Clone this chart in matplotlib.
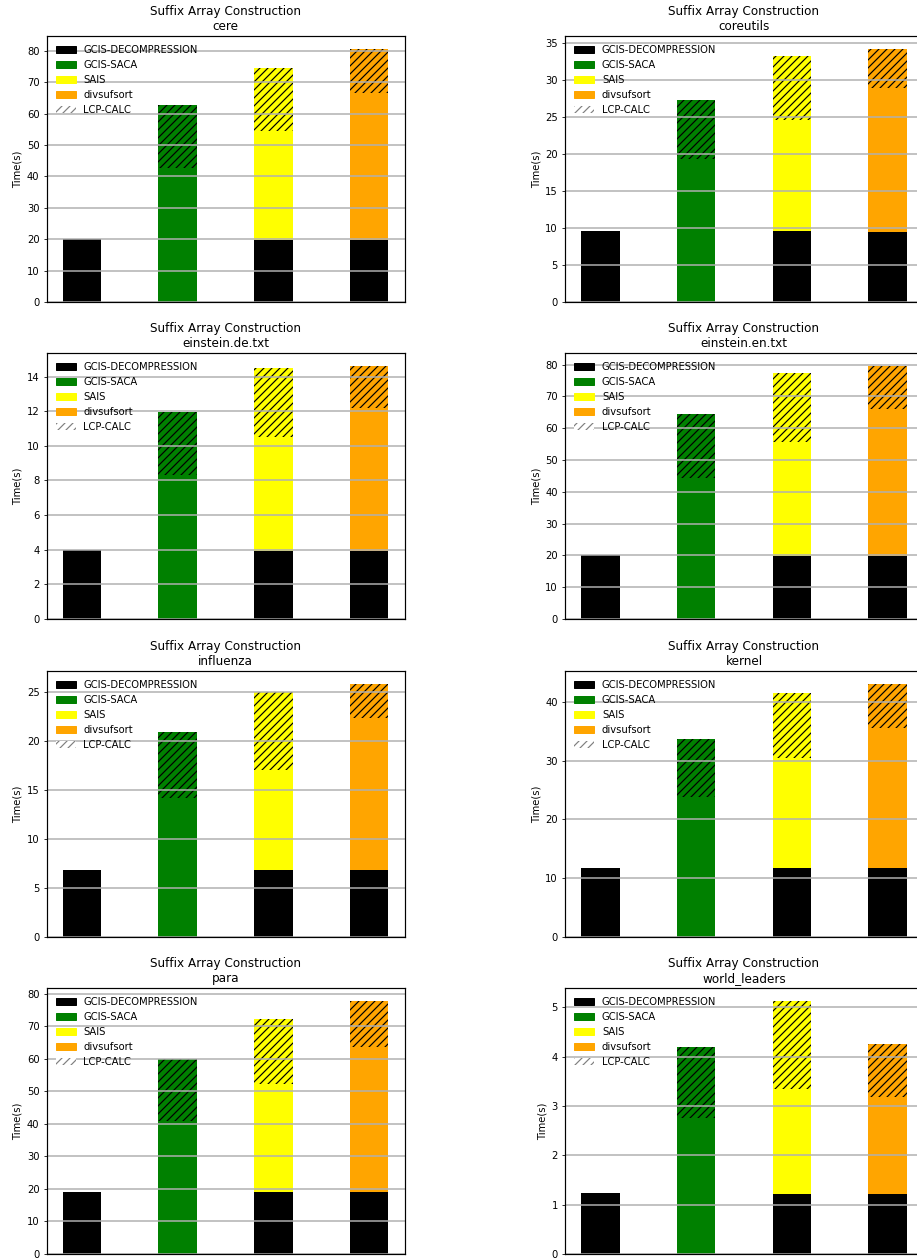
import numpy as np
import matplotlib
matplotlib.use('Agg')
import matplotlib.pyplot as plt
import matplotlib.patches as mpatches

datasets = ['cere', 'coreutils', 'einstein.de.txt', 'einstein.en.txt',
            'influenza', 'kernel', 'para', 'world_leaders']

# decompression time (bar 0) and the decompression part under SAIS / divsufsort
decompression = [20.0, 9.6, 3.96, 20.2, 6.86, 11.77, 18.93, 1.233]
decomp_sais = [19.9, 9.6, 3.9, 19.8, 6.86, 11.77, 18.93, 1.213]
decomp_div = [19.9, 9.47, 3.9, 19.8, 6.86, 11.77, 18.93, 1.213]

gcis_saca = [42.6, 19.25, 8.33, 44.5, 14.13, 23.76, 41.02, 2.756]
gcis_lcp = [20.1, 7.98, 3.65, 20.0, 6.79, 9.9, 18.83, 1.449]

sais = [34.7, 15.03, 6.6, 35.9, 10.19, 18.61, 33.45, 2.123]
sais_lcp = [20.1, 8.52, 4.0, 21.7, 7.95, 11.09, 19.82, 1.799]

divsufsort = [46.7, 19.43, 8.31, 46.4, 15.49, 23.82, 44.7, 1.967]
div_lcp = [14.1, 5.29, 2.42, 13.5, 3.47, 7.47, 14.22, 1.086]

W, H = 917, 1259
fig = plt.figure(figsize=(W / 72.0, H / 72.0), dpi=72)
plt.rcParams['hatch.linewidth'] = 1.2

col_left = [46.5, 565.0]
row_top = [36.0, 353.0, 671.0, 988.0]
ax_w, ax_h = 358.0, 266.0

hatch = '///'
width = 0.4

for i, name in enumerate(datasets):
    r, c = i // 2, i % 2
    ax = fig.add_axes([col_left[c] / W, 1 - (row_top[r] + ax_h) / H,
                       ax_w / W, ax_h / H])
    x = np.arange(4)

    ax.bar(x[0], decompression[i], width, color='black')

    ax.bar(x[1], gcis_saca[i], width, color='green')
    ax.bar(x[1], gcis_lcp[i], width, bottom=gcis_saca[i], color='green',
           edgecolor='black', linewidth=0, hatch=hatch)

    ax.bar(x[2], decomp_sais[i], width, color='black')
    ax.bar(x[2], sais[i], width, bottom=decomp_sais[i], color='yellow')
    ax.bar(x[2], sais_lcp[i], width, bottom=decomp_sais[i] + sais[i],
           color='yellow', edgecolor='black', linewidth=0, hatch=hatch)

    ax.bar(x[3], decomp_div[i], width, color='black')
    ax.bar(x[3], divsufsort[i], width, bottom=decomp_div[i], color='orange')
    ax.bar(x[3], div_lcp[i], width, bottom=decomp_div[i] + divsufsort[i],
           color='orange', edgecolor='black', linewidth=0, hatch=hatch)

    ax.set_title('Suffix Array Construction\n' + name, fontsize=12)
    ax.set_ylabel('Time(s)', fontsize=10)
    ax.set_xticks([])
    ax.tick_params(axis='y', labelsize=10)
    ax.yaxis.grid(True, color='#b0b0b0', linewidth=1.5)
    for sp in ax.spines.values():
        sp.set_linewidth(1.2)

    handles = [mpatches.Patch(color='black', label='GCIS-DECOMPRESSION'),
               mpatches.Patch(color='green', label='GCIS-SACA'),
               mpatches.Patch(color='yellow', label='SAIS'),
               mpatches.Patch(color='orange', label='divsufsort'),
               mpatches.Patch(facecolor='white', edgecolor='gray', linewidth=0,
                              hatch=hatch, label='LCP-CALC')]
    ax.legend(handles=handles, loc='upper left', frameon=False, fontsize=10)

fig.savefig('out.png', dpi=72)
